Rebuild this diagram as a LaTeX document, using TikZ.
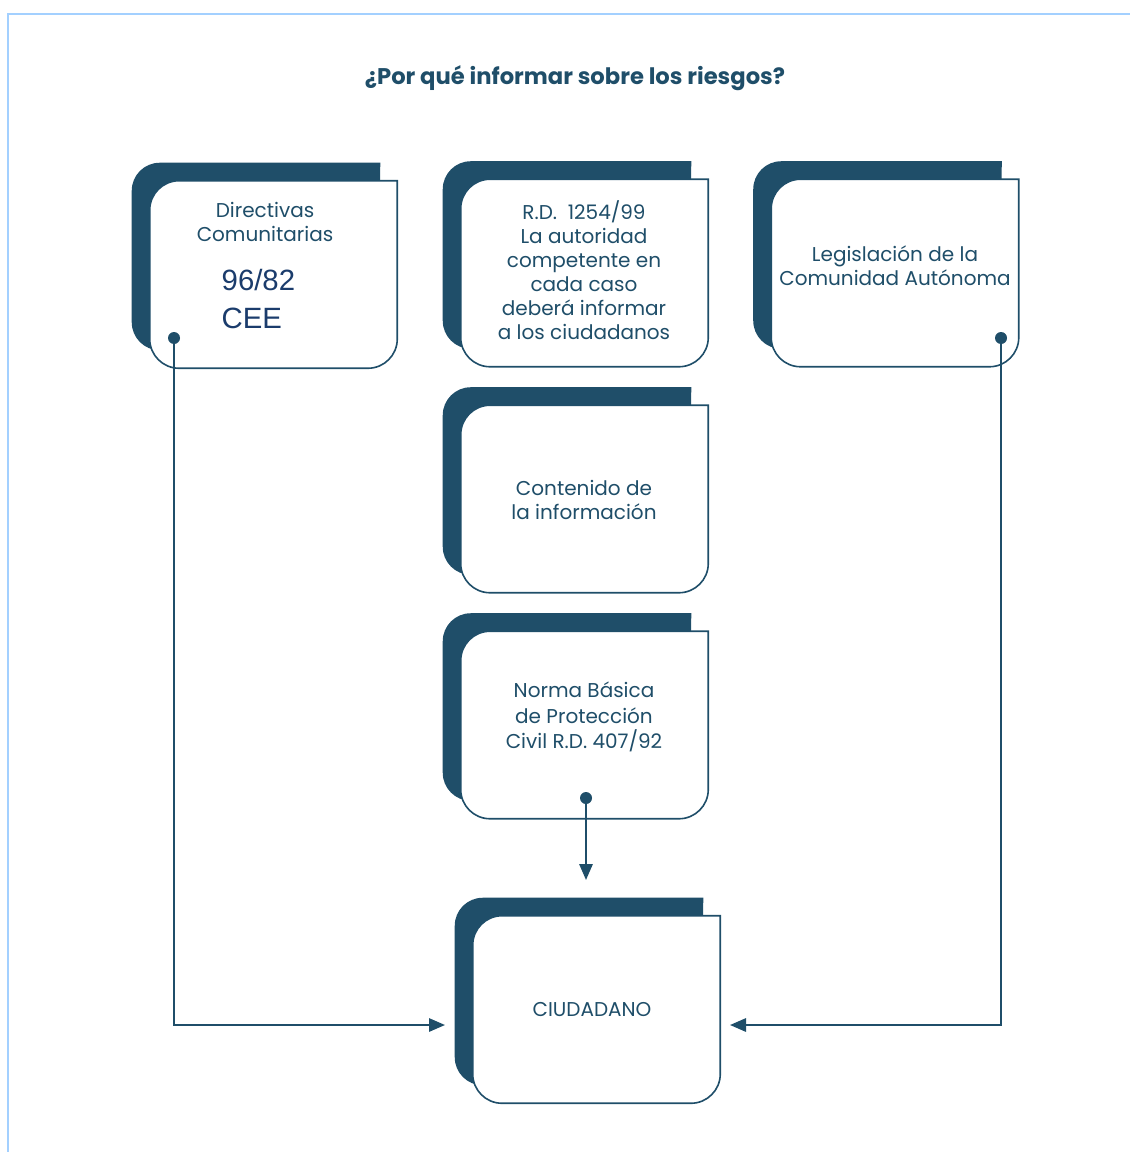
\documentclass[tikz,border=0pt]{standalone}
\usepackage{fontspec}
\setmainfont{Poppins}
\newfontfamily\cifras{Liberation Sans}
\usetikzlibrary{positioning, calc, arrows.meta, backgrounds}

\definecolor{azul}{HTML}{1F4E69}
\definecolor{azulcifra}{HTML}{1B3C6C}
\definecolor{celeste}{HTML}{A3D0FF}

\tikzset{
  caja/.style={minimum width=185.25pt, minimum height=140.25pt, inner sep=0pt},
  texto/.style={align=center, text=azul, font=\fontsize{15}{18}\selectfont},
  punto/.style={circle, fill=azul, inner sep=0pt, minimum size=9pt},
  flecha/.style={draw=azul, line width=1.5pt, -{Triangle[length=12pt,width=10pt]}},
}

% fondo oscuro y marco blanco de cada caja
\newcommand{\marco}[1]{%
  \begin{pgfonlayer}{background}
    \fill[azul, rounded corners=21pt] ($(#1.north east)+(-17,-18)$) -- ($(#1.north west)+(-18,-18)$)
      -- ($(#1.south west)+(-18,-18)$) -- ($(#1.south east)+(-18,-18)$) -- ($(#1.north east)+(-17,-18)$);
    \filldraw[fill=white, draw=azul, line width=1.2pt, rounded corners=22pt, line cap=rect]
      (#1.north east) -- (#1.north west) -- (#1.south west) -- (#1.south east) -- (#1.north east);
  \end{pgfonlayer}}

\begin{document}
\begin{tikzpicture}[x=0.75pt, y=-0.75pt]
    \useasboundingbox (0,0) rectangle (1130,1152);
    \draw[celeste, line width=1.5pt] (8,1152) -- (8,14) -- (1130,14);

    \node[font=\bfseries\fontsize{17}{20}\selectfont, text=azul] (titulo) at (575,78) {¿Por qué informar sobre los riesgos?};

    % cajas
    \node[caja] (dir) at (273.5,274.5) {};
    \node[caja] (rd) at (584.5,273) {};
    \node[caja] (leg) at (895,273) {};
    \node[caja] (cont) at (584.5,499) {};
    \node[caja] (norma) at (584.5,725) {};
    \node[caja] (ciu) at (596.5,1009.5) {};

    \marco{dir}
    \marco{rd}
    \marco{leg}
    \marco{cont}
    \marco{norma}
    \marco{ciu}

    % textos
    \node[texto] (dirT) at (265,222) {Directivas\\Comunitarias};
    \node[texto, font=\cifras\fontsize{22}{28.5}\selectfont, text=azulcifra, align=left, anchor=west] (dirN) at (217,299) {96/82\\CEE};
    \node[texto] (rdT) at (584,270) {R.D.\ \ 1254/99\\La autoridad\\competente en\\cada caso\\deberá informar\\a los ciudadanos};
    \node[texto] (legT) at (895,266) {Legislación de la\\Comunidad Autónoma};
    \node[texto] (contT) at (584,500) {Contenido de\\la información};
    \node[texto, font=\fontsize{15}{19}\selectfont] (normaT) at (584,717) {Norma Básica\\de Protección\\Civil R.D. 407/92};
    \node[texto] (ciuT) at (592,1009) {CIUDADANO};

    % conexiones
    \node[punto] (p1) at (174,338) {};
    \node[punto] (p3) at (1001,338) {};
    \node[punto] (p5) at (586,798) {};
    \coordinate (fin1) at (445,1025);
    \coordinate (fin3) at (730,1025);
    \coordinate (fin5) at (586,880);
    \draw[flecha] (p1.center) |- (fin1);
    \draw[flecha] (p3.center) |- (fin3);
    \draw[flecha] (p5.center) -- (fin5);
\end{tikzpicture}
\end{document}
